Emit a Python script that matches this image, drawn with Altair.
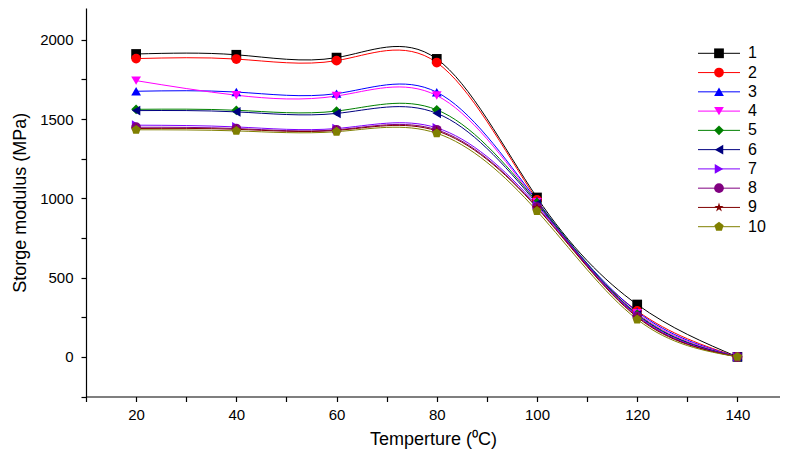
import altair as alt
import pandas as pd

temps = [20, 40, 60, 80, 100, 120, 140]
names = ["1", "2", "3", "4", "5", "6", "7", "8", "9", "10"]
s1 = [1910, 1905, 1887, 1879, 1005, 330, 0]
s2 = [1881, 1878, 1868, 1856, 990, 290, 0]
s3 = [1675, 1670, 1660, 1669, 985, 285, 0]
s4 = [1742, 1650, 1645, 1648, 975, 275, 0]
s5 = [1561, 1555, 1550, 1558, 975, 270, 0]
s6 = [1553, 1545, 1535, 1536, 965, 265, 0]
s7 = [1461, 1450, 1440, 1444, 955, 260, 0]
s8 = [1448, 1440, 1432, 1432, 945, 255, 0]
s9 = [1440, 1435, 1428, 1425, 940, 250, 0]
s10 = [1432, 1425, 1420, 1410, 920, 236, 0]
series = [s1, s2, s3, s4, s5, s6, s7, s8, s9, s10]

colors = ["#000000", "#ff0000", "#0000ff", "#ff00ff", "#008000",
          "#000080", "#8000ff", "#800080", "#800000", "#808000"]
pentagon = "M0,-1L0.951,-0.309L0.588,0.809L-0.588,0.809L-0.951,-0.309Z"
star = ("M0,-1L0.225,-0.309L0.951,-0.309L0.363,0.118L0.588,0.809"
        "L0,0.382L-0.588,0.809L-0.363,0.118L-0.951,-0.309L-0.225,-0.309Z")
shapes = ["square", "circle", "triangle-up", "triangle-down", "diamond",
          "triangle-left", "triangle-right", "circle", star, pentagon]

rows = []
for i, (n, vals) in enumerate(zip(names, series)):
    for t, v in zip(temps, vals):
        rows.append({"series": n, "order": i, "T": t, "E": v})
df = pd.DataFrame(rows)
leg = pd.DataFrame({"series": names, "idx": list(range(1, 11))})

color = alt.Color("series:N", scale=alt.Scale(domain=names, range=colors), legend=None)
shape = alt.Shape("series:N", scale=alt.Scale(domain=names, range=shapes), legend=None)

xvals = list(range(10, 151, 10))
yvals = list(range(-250, 2251, 250))
xenc = alt.X("T:Q", scale=alt.Scale(domain=[10, 148.5], nice=False, zero=False),
             axis=alt.Axis(values=xvals, labelExpr="datum.value % 20 == 0 ? datum.label : ''",
                           title="Temperture (\u2070C)", tickSize=5, labelPadding=6,
                           titlePadding=8))
yenc = alt.Y("E:Q", scale=alt.Scale(domain=[-250, 2200], nice=False, zero=False),
             axis=alt.Axis(values=yvals, labelExpr="datum.value % 500 == 0 ? datum.label : ''",
                           title="Storge modulus (MPa)", tickSize=5, labelPadding=8,
                           titlePadding=10, format="d"))

base = alt.Chart(df)
lines = base.mark_line(interpolate="natural", strokeWidth=1).encode(
    x=xenc, y=yenc, color=color, detail="series:N", order="order:Q")
points = base.mark_point(filled=True, opacity=1, size=95).encode(
    x=xenc, y=yenc, color=color, shape=shape, order="order:Q")
data_layer = alt.layer(lines, points)

ly = alt.Y("idx:Q", scale=alt.Scale(domain=[1, 10], range=[45.3, 218.7]), axis=None)
lb = alt.Chart(leg)
leg_rule = lb.mark_rule(strokeWidth=1).encode(
    x=alt.value(612), x2=alt.value(654), y=ly, color=color)
leg_pt = lb.mark_point(filled=True, opacity=1, size=95).encode(
    x=alt.value(633), y=ly, color=color, shape=shape)
leg_txt = lb.mark_text(align="left", baseline="middle", fontSize=16,
                       font="Liberation Sans", color="black").encode(
    x=alt.value(662), y=ly, text="series:N")
legend = alt.layer(leg_rule, leg_pt, leg_txt)

chart = alt.layer(data_layer, legend).resolve_scale(y="independent").properties(
    width=694, height=388.5,
    autosize=alt.AutoSizeParams(type="none"),
    padding={"left": 78, "top": 0, "right": 0, "bottom": 52},
).configure_view(stroke=None).configure_axis(
    grid=False, domainColor="black", tickColor="black", labelColor="black",
    titleColor="black", labelFont="Liberation Sans", titleFont="Liberation Sans",
    labelFontSize=15, titleFontSize=18, titleFontWeight="normal", domainWidth=1.2,
    tickWidth=1.2,
)

chart.save("out.html", embed_options={"renderer": "svg", "actions": False})
